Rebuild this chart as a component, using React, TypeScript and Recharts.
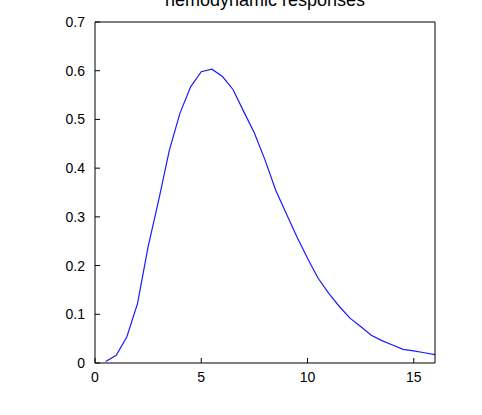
import React from 'react';
import { LineChart, Line, XAxis, YAxis } from 'recharts';

// time (s) and response
const times = [0.5, 1, 1.5, 2, 2.5, 3, 3.5, 4, 4.5, 5, 5.5, 6, 6.5, 7, 7.5, 8, 8.5, 9, 9.5, 10, 10.5, 11, 11.5, 12, 12.5, 13, 13.5, 14, 14.5, 15, 15.5, 16];
const response = [0.003, 0.016, 0.054, 0.122, 0.239, 0.335, 0.437, 0.513, 0.567, 0.598, 0.603, 0.588, 0.561, 0.516, 0.472, 0.417, 0.355, 0.307, 0.259, 0.215, 0.174, 0.143, 0.116, 0.092, 0.075, 0.057, 0.046, 0.037, 0.028, 0.025, 0.021, 0.017];
const xTicks = [0, 5, 10, 15];
const yTicks = [0, 0.1, 0.2, 0.3, 0.4, 0.5, 0.6, 0.7];

const data = times.map((t, i) => ({ t, v: response[i] }));

const tickStyle = { fill: '#000', fontSize: 14, fontFamily: '"Liberation Sans", Arial, sans-serif' };

const App: React.FC = () => {
  return (
    <div style={{ position: 'absolute', left: 0, top: 0, width: 482, height: 415, background: '#fff', overflow: 'hidden' }}>
      {/* title sits partly above the page edge, as in the original figure */}
      <div
        style={{
          position: 'absolute',
          left: 95,
          top: -9,
          width: 340,
          textAlign: 'center',
          fontFamily: '"Liberation Sans", Arial, sans-serif',
          fontSize: 18,
          lineHeight: '18px',
          color: '#000',
        }}
      >
        hemodynamic responses
      </div>
      <LineChart width={482} height={415} data={data} margin={{ top: 22, right: 47, bottom: 22, left: 55 }}>
        <XAxis
          dataKey="t"
          type="number"
          domain={[0, 16]}
          ticks={xTicks}
          allowDataOverflow
          height={30}
          tickSize={-5}
          tickMargin={14}
          stroke="#000"
          tick={tickStyle}
          tickLine={{ stroke: '#000' }}
        />
        <XAxis xAxisId="top" dataKey="t" type="number" domain={[0, 16]} ticks={xTicks} orientation="top" mirror tick={false} tickSize={5} stroke="#000" />
        <YAxis
          type="number"
          domain={[0, 0.7]}
          ticks={yTicks}
          width={40}
          tickSize={-5}
          tickMargin={15}
          stroke="#000"
          tick={tickStyle}
          tickLine={{ stroke: '#000' }}
        />
        <YAxis yAxisId="right" type="number" domain={[0, 0.7]} ticks={yTicks} orientation="right" mirror tick={false} tickSize={5} width={40} stroke="#000" />
        <Line type="linear" dataKey="v" stroke="#1a1aff" strokeWidth={1.2} dot={false} isAnimationActive={false} />
      </LineChart>
    </div>
  );
};

export default App;
